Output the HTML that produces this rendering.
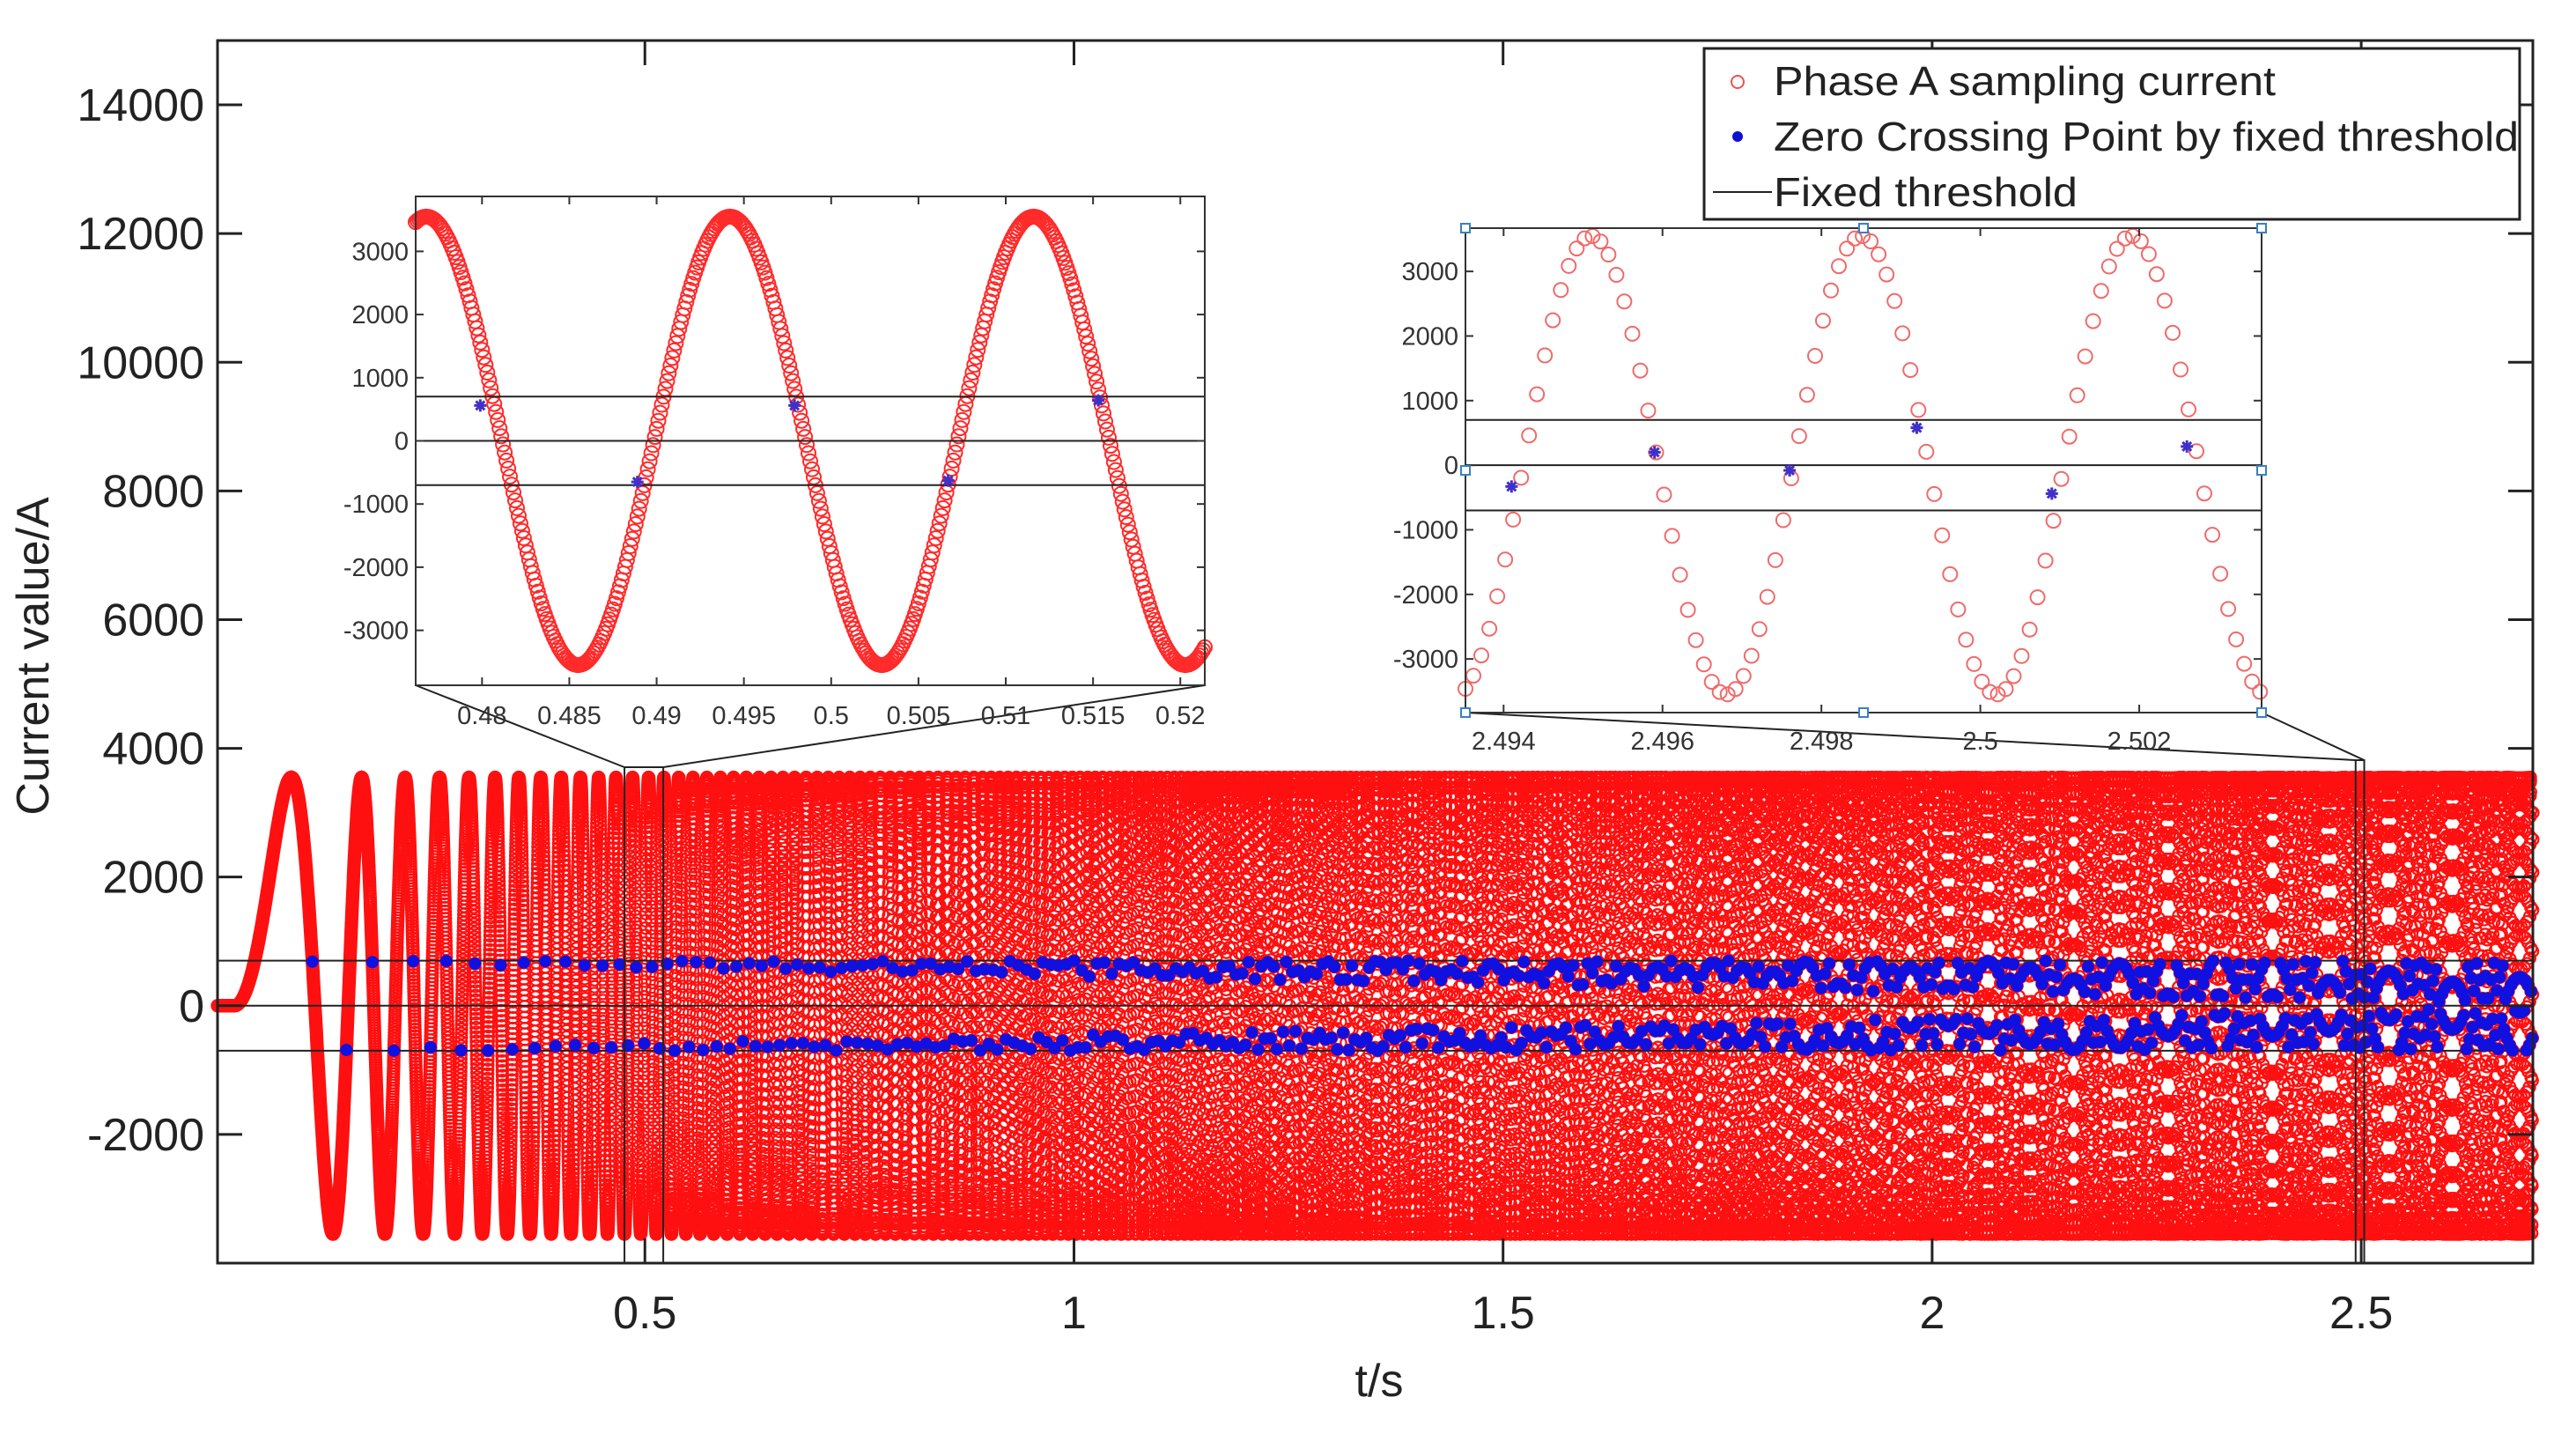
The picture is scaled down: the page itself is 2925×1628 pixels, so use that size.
<!DOCTYPE html>
<html><head><meta charset="utf-8"><style>
html,body{margin:0;padding:0;background:#fff;}
svg{display:block;font-family:"Liberation Sans",Arial,sans-serif;}
</style></head><body>
<svg id="chart" width="2925" height="1628" viewBox="0 0 2925 1628" xmlns="http://www.w3.org/2000/svg">
<rect x="0" y="0" width="2925" height="1628" fill="#fff"/>
<g id="mainMarks"></g>
<g id="mainAxes"></g>
<g id="zoomLines"></g>
<g id="inset1"></g>
<g id="inset2"></g>
<g id="legend">
  <rect x="1935" y="55" width="926" height="194" fill="#fff" stroke="#222" stroke-width="3"/>
  <circle cx="1973" cy="93" r="7" fill="none" stroke="#f05050" stroke-width="2"/>
  <text x="2014" y="108" font-size="46" textLength="570" lengthAdjust="spacingAndGlyphs" fill="#222">Phase A sampling current</text>
  <circle cx="1973" cy="155" r="6" fill="#1010d0"/>
  <text x="2014" y="171" font-size="46" textLength="846" lengthAdjust="spacingAndGlyphs" fill="#222">Zero Crossing Point by fixed threshold</text>
  <line x1="1945" y1="218" x2="2012" y2="218" stroke="#222" stroke-width="2"/>
  <text x="2014" y="234" font-size="46" textLength="345" lengthAdjust="spacingAndGlyphs" fill="#222">Fixed threshold</text>
</g>
</svg>
<script>
// ---- data ----
const mainYTicks = [-2000, 0, 2000, 4000, 6000, 8000, 10000, 12000, 14000];
const mainXTicks = [0.5, 1, 1.5, 2, 2.5];
const mainXTickLabels = ["0.5", "1", "1.5", "2", "2.5"];
const thresholds = [700, 0, -700];
const signalAmplitude = [3550];
const chirpStart = [0.0217];      // s, where oscillation begins
const chirpRate = [56.9];         // phase = 2*pi*rate*(t-start)^2
const sampleStep = [0.0001];      // s
const timeRange = [0.002, 2.7];

const inset1XTicks = [0.48, 0.485, 0.49, 0.495, 0.5, 0.505, 0.51, 0.515, 0.52];
const inset1XTickLabels = ["0.48","0.485","0.49","0.495","0.5","0.505","0.51","0.515","0.52"];
const inset1YTicks = [-3000,-2000,-1000,0,1000,2000,3000];
const inset1Freq = [57.5];
const inset1PeakTime = [0.4942];
const inset1CrossT = [0.4799, 0.4889, 0.4979, 0.5067, 0.5153];
const inset1CrossV = [560, -650, 560, -630, 640];

const inset2XTicks = [2.494, 2.496, 2.498, 2.5, 2.502];
const inset2XTickLabels = ["2.494","2.496","2.498","2.5","2.502"];
const inset2YTicks = [-3000,-2000,-1000,0,1000,2000,3000];
const inset2Freq = [294];
const inset2PeakTime = [2.4951];
const inset2CrossT = [2.4941, 2.4959, 2.4976, 2.4992, 2.5009, 2.5026];
const inset2CrossV = [-330, 200, -80, 580, -440, 290];

const NS = "http://www.w3.org/2000/svg";
function mk(tag, attrs, parent){ const e=document.createElementNS(NS,tag); for(const k in attrs) e.setAttribute(k,attrs[k]); parent.appendChild(e); return e; }
function linScale(d0,d1,r0,r1){ return v => r0 + (v-d0)*(r1-r0)/(d1-d0); }

// ---- main axes ----
const ML=247, MR=2876, MT=46, MB=1434;
const X = linScale(timeRange[0], timeRange[1], ML, MR);
const Y = linScale(-4000, 15000, MB, MT);
const A = signalAmplitude[0];
function sig(t){ if(t<chirpStart[0]) return 0; const d=t-chirpStart[0]; return A*Math.sin(2*Math.PI*chirpRate[0]*d*d); }

const marks = document.getElementById('mainMarks');
let pathD = "";
const dt = sampleStep[0];
const n = Math.round((timeRange[1]-timeRange[0])/dt);
const r=6.5;
for(let i=0;i<=n;i++){
  const t=timeRange[0]+i*dt; const cx=X(t), cy=Y(sig(t));
  pathD += "M"+(cx-r).toFixed(1)+" "+cy.toFixed(1)+"a"+r+" "+r+" 0 1 0 "+(2*r)+" 0a"+r+" "+r+" 0 1 0 "+(-2*r)+" 0";
}
const sp = mk('path',{d:pathD,fill:"none",stroke:"#ff1010","stroke-width":"2.3"},marks);



thresholds.forEach(v=>{
  const l=mk('line',{x1:ML,x2:MR,y1:Y(v),y2:Y(v),stroke:"#222","stroke-width":"2"},marks);
  
  
});
let dotD="";
let prev=sig(timeRange[0]);
for(let i=1;i<=n;i++){
  const t=timeRange[0]+i*dt; const v=sig(t);
  if((prev>=thresholds[0] && v<thresholds[0]) || (prev<=thresholds[2] && v>thresholds[2])){
    const cx=X(t), cy=Y(v);
    dotD += "M"+(cx-7).toFixed(1)+" "+cy.toFixed(1)+"a7 7 0 1 0 14 0a7 7 0 1 0 -14 0";
  }
  prev=v;
}
const dp=mk('path',{d:dotD,fill:"#1010e0",stroke:"none"},marks);



const axes=document.getElementById('mainAxes');
const frame=mk('rect',{x:ML,y:MT,width:MR-ML,height:MB-MT,fill:"none",stroke:"#222","stroke-width":"3"},axes);


mainYTicks.forEach(v=>{
  const y=Y(v);
  mk('line',{x1:ML,x2:ML+28,y1:y,y2:y,stroke:"#222","stroke-width":"3"},axes);
  mk('line',{x1:MR,x2:MR-28,y1:y,y2:y,stroke:"#222","stroke-width":"3"},axes);
  const tx=mk('text',{x:232,y:y+18,"font-size":"52","text-anchor":"end",fill:"#222"},axes);
  tx.textContent=String(v);
  
  
});
mainXTicks.forEach((v,i)=>{
  const x=X(v);
  mk('line',{x1:x,x2:x,y1:MB,y2:MB-28,stroke:"#222","stroke-width":"3"},axes);
  mk('line',{x1:x,x2:x,y1:MT,y2:MT+28,stroke:"#222","stroke-width":"3"},axes);
  const tx=mk('text',{x:x,y:1508,"font-size":"52","text-anchor":"middle",fill:"#222"},axes);
  tx.textContent=mainXTickLabels[i];
  
  
});
const xt=mk('text',{x:1566,y:1585,"font-size":"52","text-anchor":"middle",fill:"#222"},axes);
xt.textContent="t/s";


const yt=mk('text',{x:0,y:0,"font-size":"52","text-anchor":"middle",fill:"#222",transform:"translate(55,745) rotate(-90)"},axes);
yt.textContent="Current value/A";



// ---- insets ----
function drawInset(g, box, xd, yd, freq, peak, xticks, xlabels, yticks, crossT, crossV, opts){
  const sx=linScale(xd[0],xd[1],box.l,box.r), sy=linScale(yd[0],yd[1],box.b,box.t);
  mk('rect',{x:box.l,y:box.t,width:box.r-box.l,height:box.b-box.t,fill:"#fff"},g);
  let d="";
  const rr=opts.r;
  for(let t=xd[0]; t<=xd[1]+1e-9; t+=opts.step){
    const v=A*Math.cos(2*Math.PI*freq*(t-peak));
    const cx=sx(t), cy=sy(v);
    d+="M"+(cx-rr).toFixed(1)+" "+cy.toFixed(1)+"a"+rr+" "+rr+" 0 1 0 "+(2*rr)+" 0a"+rr+" "+rr+" 0 1 0 "+(-2*rr)+" 0";
  }
  const p=mk('path',{d:d,fill:"none",stroke:opts.color,"stroke-width":"2"},g);
  
  
  thresholds.forEach(v=>{
    const l=mk('line',{x1:box.l,x2:box.r,y1:sy(v),y2:sy(v),stroke:"#222","stroke-width":"2"},g);
    
    
  });
  crossT.forEach((t,i)=>{
    const cx=sx(t), cy=sy(crossV[i]);
    const s=mk('g',{stroke:"#4030c8","stroke-width":"3"},g);
    
    
    for(let a=0;a<4;a++){const an=a*Math.PI/4; mk('line',{x1:cx-7*Math.cos(an),y1:cy-7*Math.sin(an),x2:cx+7*Math.cos(an),y2:cy+7*Math.sin(an)},s);}
  });
  mk('rect',{x:box.l,y:box.t,width:box.r-box.l,height:box.b-box.t,fill:"none",stroke:"#333","stroke-width":"2"},g);
  yticks.forEach(v=>{
    const y=sy(v);
    mk('line',{x1:box.l,x2:box.l+9,y1:y,y2:y,stroke:"#333","stroke-width":"2"},g);
    mk('line',{x1:box.r,x2:box.r-9,y1:y,y2:y,stroke:"#333","stroke-width":"2"},g);
    const tx=mk('text',{x:box.l-8,y:y+10,"font-size":"29","text-anchor":"end",fill:"#333"},g);
    tx.textContent=String(v);
    
    
  });
  xticks.forEach((v,i)=>{
    const x=sx(v);
    mk('line',{x1:x,x2:x,y1:box.b,y2:box.b-9,stroke:"#333","stroke-width":"2"},g);
    mk('line',{x1:x,x2:x,y1:box.t,y2:box.t+9,stroke:"#333","stroke-width":"2"},g);
    const tx=mk('text',{x:x,y:box.b+opts.labelDy,"font-size":"29","text-anchor":"middle",fill:"#333"},g);
    tx.textContent=xlabels[i];
    
    
  });
  return {sx,sy};
}
const g1=document.getElementById('inset1');


const box1={l:472,r:1368,t:223,b:778};
drawInset(g1,box1,[0.4762,0.5214],[-3870,3870],inset1Freq[0],inset1PeakTime[0],inset1XTicks,inset1XTickLabels,inset1YTicks,inset1CrossT,inset1CrossV,{r:8,step:0.0001,color:"#ff2a2a",labelDy:44});

const g2=document.getElementById('inset2');


const box2={l:1664,r:2568,t:259,b:809};
drawInset(g2,box2,[2.49352,2.50354],[-3830,3670],inset2Freq[0],inset2PeakTime[0],inset2XTicks,inset2XTickLabels,inset2YTicks,inset2CrossT,inset2CrossV,{r:8,step:0.0001,color:"#f06a6a",labelDy:42});
[[box2.l,box2.t],[(box2.l+box2.r)/2,box2.t],[box2.r,box2.t],[box2.l,(box2.t+box2.b)/2],[box2.r,(box2.t+box2.b)/2],[box2.l,box2.b],[(box2.l+box2.r)/2,box2.b],[box2.r,box2.b]].forEach(p=>{
  const h=mk('rect',{x:p[0]-5,y:p[1]-5,width:10,height:10,fill:"#fff",stroke:"#3a80c0","stroke-width":"2"},g2);
  
  
});

// ---- zoom rectangles & connector lines ----
const zl=document.getElementById('zoomLines');
function zoomRect(t0,t1,top,box){
  const r=mk('rect',{x:X(t0),y:top,width:X(t1)-X(t0),height:MB-top,fill:"none",stroke:"#222","stroke-width":"2"},zl);
  
  
  mk('line',{x1:box.l,y1:box.b,x2:X(t0),y2:top,stroke:"#222","stroke-width":"2"},zl);
  mk('line',{x1:box.r,y1:box.b,x2:X(t1),y2:top,stroke:"#222","stroke-width":"2"},zl);
}
zoomRect(0.4762,0.5214,871,box1);
zoomRect(2.4935,2.5035,863,box2);
</script>
</body></html>
